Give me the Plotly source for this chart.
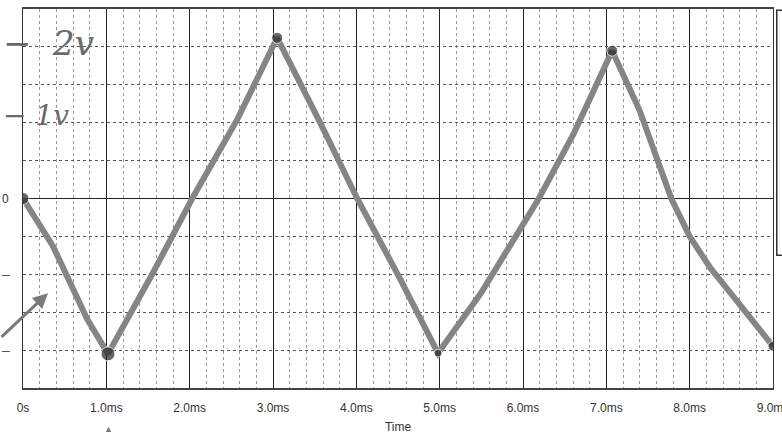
import plotly.graph_objects as go

# Trace (time in ms, voltage in V)
time_ms = [0, 0.36, 0.77, 1.02, 1.56, 2.03, 2.57, 3.05, 3.57, 4.01, 4.53, 4.98,
           5.5, 6.0, 6.19, 6.61, 7.07, 7.4, 7.62, 7.78, 8.0, 8.25, 8.53, 9.0]
volts = [0, -0.63, -1.59, -2.05, -0.98, 0, 1.04, 2.12, 0.99, 0, -1.07, -2.04,
         -1.24, -0.33, 0, 0.86, 1.95, 1.16, 0.5, 0, -0.5, -0.92, -1.3, -1.95]

# Hand-marked vertices
vertex_t = [0, 1.02, 3.05, 4.98, 7.07, 9.0]
vertex_v = [0, -2.05, 2.12, -2.04, 1.95, -1.95]
vertex_size = [12, 14, 11, 8, 11, 10]

tick_vals = [0, 1, 2, 3, 4, 5, 6, 7, 8, 9]
tick_text = ["0s", "1.0ms", "2.0ms", "3.0ms", "4.0ms", "5.0ms", "6.0ms", "7.0ms", "8.0ms", "9.0ms"]

fig = go.Figure()
fig.add_trace(go.Scatter(x=time_ms, y=volts, mode="lines",
                         line=dict(color="#858585", width=6), showlegend=False))
fig.add_trace(go.Scatter(x=vertex_t, y=vertex_v, mode="markers",
                         marker=dict(color="#2a2a2a", size=vertex_size, symbol="circle"),
                         showlegend=False))

fig.update_layout(
    width=782, height=435,
    margin=dict(l=23, r=9, t=9, b=47, autoexpand=False),
    paper_bgcolor="white", plot_bgcolor="white",
    font=dict(family="Liberation Sans, Arial, sans-serif", size=12, color="#333"),
    xaxis=dict(range=[0, 9], tickvals=tick_vals, ticktext=tick_text,
               automargin=False, ticklabeloverflow="allow", ticklabelstandoff=8,
               showgrid=True, gridcolor="#222", gridwidth=1,
               minor=dict(dtick=0.2, showgrid=True, gridcolor="#9a9a9a", griddash="dot", gridwidth=1),
               showline=True, linecolor="#444", linewidth=2, mirror=True,
               ticks="", zeroline=False,
               title=dict(text="Time", font=dict(size=12, color="#333"), standoff=8)),
    yaxis=dict(range=[-2.5, 2.5], dtick=0.5, showticklabels=False, automargin=False,
               showgrid=True, gridcolor="#555", griddash="dot", gridwidth=1,
               zeroline=True, zerolinecolor="#222", zerolinewidth=1,
               showline=True, linecolor="#333", linewidth=1, mirror=True, ticks=""),
)

# legend box edge visible at right border of the scan
fig.add_shape(type="rect", xref="paper", yref="paper", x0=1.005, x1=1.03, y0=0.35, y1=0.997,
              line=dict(color="#333", width=1.5), fillcolor="white", layer="above")

# handwritten annotations
fig.add_annotation(xref="paper", yref="y", x=-0.03, y=2.05, xanchor="left", showarrow=False,
                   text="<i>−  2v</i>", font=dict(family="DejaVu Serif", size=34, color="#6a6a6a"))
fig.add_annotation(xref="paper", yref="y", x=-0.03, y=1.1, xanchor="left", showarrow=False,
                   text="<i>− 1v</i>", font=dict(family="DejaVu Serif", size=28, color="#6a6a6a"))
fig.add_annotation(xref="paper", yref="y", x=-0.031, y=0, xanchor="left", showarrow=False,
                   text="0", font=dict(size=12, color="#333"))
fig.add_annotation(xref="paper", yref="y", x=-0.031, y=-1.0, xanchor="left", showarrow=False,
                   text="–", font=dict(size=14, color="#555"))
fig.add_annotation(xref="paper", yref="y", x=-0.031, y=-2.0, xanchor="left", showarrow=False,
                   text="–", font=dict(size=14, color="#555"))
fig.add_annotation(x=0.3, y=-1.25, ax=-60, ay=45, showarrow=True, arrowhead=2,
                   arrowwidth=3, arrowcolor="#7a7a7a", text="")
fig.add_annotation(xref="x", yref="paper", x=1.02, y=-0.107, yanchor="middle", showarrow=False,
                   text="▲", font=dict(size=9, color="#777"))

fig.write_html("out.html", config={"displayModeBar": False},
               post_script="document.body.style.margin='0';")
